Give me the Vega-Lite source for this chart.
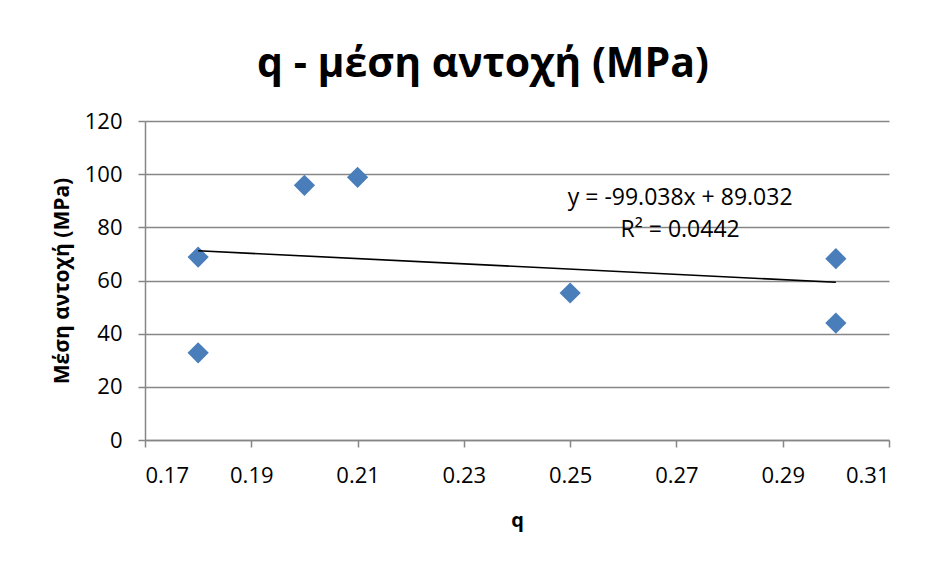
{
  "$schema": "https://vega.github.io/schema/vega-lite/v6.json",
  "width": 744,
  "height": 319,
  "autosize": {"type": "none"},
  "padding": {"left": 145, "top": 121, "right": 54, "bottom": 121},
  "background": "white",
  "title": {
    "text": "q - μέση αντοχή (MPa)",
    "font": "Open Sans",
    "fontSize": 41,
    "fontWeight": "bold",
    "color": "black",
    "anchor": "middle",
    "dx": -34,
    "offset": 24
  },
  "config": {
    "view": {"stroke": null},
    "axis": {
      "domainColor": "#868686",
      "domainWidth": 1.5,
      "tickColor": "#868686",
      "tickWidth": 1.5,
      "tickSize": 7,
      "gridColor": "#868686",
      "gridWidth": 1.5,
      "labelFont": "Open Sans",
      "labelFontSize": 22,
      "labelColor": "black",
      "titleFont": "Open Sans",
      "titleFontWeight": "bold",
      "titleColor": "black"
    }
  },
  "layer": [
    {
      "data": {
        "values": [
          {"q": 0.18, "strength": 68.8},
          {"q": 0.18, "strength": 32.8},
          {"q": 0.2, "strength": 95.8},
          {"q": 0.21, "strength": 98.8},
          {"q": 0.25, "strength": 55.3},
          {"q": 0.3, "strength": 68.2},
          {"q": 0.3, "strength": 44.0}
        ]
      },
      "mark": {"type": "point", "shape": "diamond", "filled": true, "size": 450, "color": "#4A7EBB", "opacity": 1},
      "encoding": {
        "x": {
          "field": "q",
          "type": "quantitative",
          "scale": {"domain": [0.17, 0.31], "nice": false, "zero": false},
          "axis": {
            "values": [0.17, 0.19, 0.21, 0.23, 0.25, 0.27, 0.29, 0.31],
            "format": ".2f",
            "grid": false,
            "labelOverlap": false,
            "labelPadding": 18,
            "title": "q",
            "titleFontSize": 20,
            "titlePadding": 24
          }
        },
        "y": {
          "field": "strength",
          "type": "quantitative",
          "scale": {"domain": [0, 120], "nice": false},
          "axis": {
            "values": [0, 20, 40, 60, 80, 100, 120],
            "grid": true,
            "labelPadding": 16,
            "title": "Μέση αντοχή (MPa)",
            "titleFontSize": 21,
            "titlePadding": 12
          }
        }
      }
    },
    {
      "data": {
        "values": [
          {"q": 0.18, "trend": 71.205},
          {"q": 0.3, "trend": 59.32}
        ]
      },
      "mark": {"type": "line", "color": "black", "strokeWidth": 1.6},
      "encoding": {
        "x": {"field": "q", "type": "quantitative"},
        "y": {"field": "trend", "type": "quantitative"}
      }
    },
    {
      "data": {
        "values": [
          {"q": 0.2707, "pos": 91.2, "label": "y = -99.038x + 89.032"},
          {"q": 0.2707, "pos": 79.0, "label": "R² = 0.0442"}
        ]
      },
      "mark": {"type": "text", "font": "Open Sans", "fontSize": 23, "color": "black", "align": "center", "baseline": "middle"},
      "encoding": {
        "x": {"field": "q", "type": "quantitative"},
        "y": {"field": "pos", "type": "quantitative"},
        "text": {"field": "label"}
      }
    }
  ]
}
